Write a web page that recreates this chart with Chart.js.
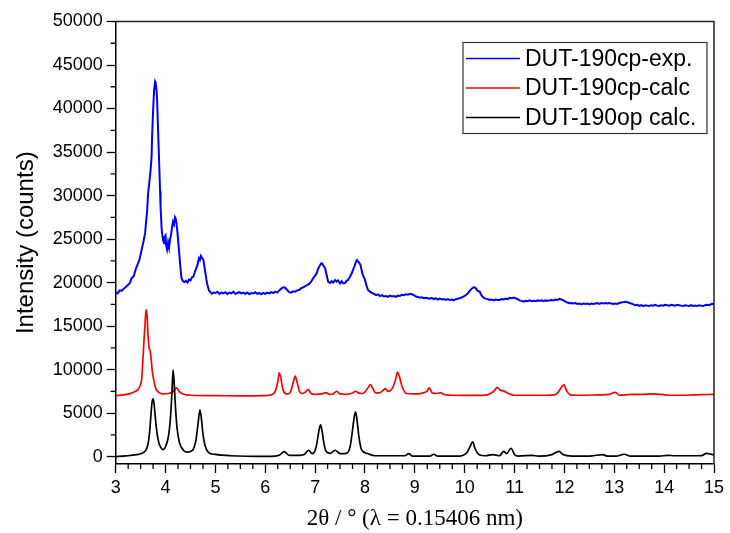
<!DOCTYPE html>
<html>
<head>
<meta charset="utf-8">
<script src="https://cdn.jsdelivr.net/npm/chart.js@4.4.0/dist/chart.umd.min.js"></script>
<style>
	html, body { margin: 0; padding: 0; background: #fff; }
	#xrd { display: block; }
</style>
</head>
<body>
<canvas id="xrd" width="730" height="533"></canvas>
<script>
(function () {
	'use strict';

	// [2theta, counts]
	var expPoints = [
		[3.00,18900],[3.04,18750],[3.08,19100],[3.12,19050],[3.16,19300],[3.20,19450],[3.24,19700],[3.28,19900],
		[3.32,20500],[3.36,20700],[3.40,21500],[3.44,22100],[3.48,22700],[3.52,23750],[3.56,24800],[3.59,25700],
		[3.61,27000],[3.63,28200],[3.65,30260],[3.68,31800],[3.70,32940],[3.72,34500],[3.73,36770],[3.75,39800],
		[3.77,42130],[3.79,43100],[3.80,42970],[3.82,42000],[3.83,40980],[3.85,37500],[3.87,34090],[3.89,30500],
		[3.90,28730],[3.92,26300],[3.93,25670],[3.95,24900],[3.97,24520],[3.98,25200],[4.00,25400],[4.01,24300],
		[4.03,23800],[4.05,24600],[4.07,24000],[4.09,25000],[4.11,25470],[4.13,26400],[4.15,27000],[4.17,26700],
		[4.19,27500],[4.20,27390],[4.22,26800],[4.24,25670],[4.26,24300],[4.28,22980],[4.30,21600],[4.32,20500],
		[4.35,20150],[4.38,20050],[4.41,20200],[4.44,20000],[4.47,20350],[4.50,20250],[4.53,20600],[4.56,20680],
		[4.59,21300],[4.62,21700],[4.64,22030],[4.67,22800],[4.69,22600],[4.71,23060],[4.73,22850],[4.76,22600],
		[4.78,21800],[4.80,21070],[4.82,20300],[4.84,19730],[4.87,19100],[4.90,18900],[4.93,18700],[4.96,18850],
		[5.00,18800],[5.04,18950],[5.08,18700],[5.12,18850],[5.16,18750],[5.20,18900],[5.24,18700],[5.28,18850],
		[5.32,18750],[5.36,18950],[5.40,18700],[5.44,18800],[5.48,18900],[5.52,18750],[5.56,18850],[5.60,18700],
		[5.64,18850],[5.68,18650],[5.72,18800],[5.76,18750],[5.80,18900],[5.84,18700],[5.88,18800],[5.92,18650],
		[5.96,18800],[6.00,18700],[6.04,18850],[6.08,18750],[6.12,18900],[6.16,18800],[6.20,18950],[6.24,18850],
		[6.28,19100],[6.32,19300],[6.36,19450],[6.40,19400],[6.44,19150],[6.48,18900],[6.52,18850],[6.56,19000],
		[6.60,18950],[6.64,19100],[6.68,19150],[6.72,19350],[6.76,19450],[6.80,19600],[6.84,19700],[6.88,19850],
		[6.92,20100],[6.96,20500],[7.00,20800],[7.03,21070],[7.06,21600],[7.09,21900],[7.12,22200],[7.14,22220],
		[7.17,21900],[7.20,21650],[7.23,20900],[7.26,20110],[7.30,19950],[7.33,20150],[7.36,20000],[7.40,20300],
		[7.43,20110],[7.46,20250],[7.50,19900],[7.53,20150],[7.56,19920],[7.60,19950],[7.63,20200],[7.66,20300],
		[7.70,20700],[7.73,21000],[7.76,21450],[7.79,21900],[7.82,22400],[7.84,22600],[7.86,22450],[7.88,22300],
		[7.91,22030],[7.94,21200],[7.97,20700],[8.00,20300],[8.03,19650],[8.06,19150],[8.10,18950],[8.14,18800],
		[8.18,18700],[8.22,18550],[8.26,18650],[8.30,18450],[8.34,18550],[8.38,18400],[8.42,18450],[8.46,18350],
		[8.50,18500],[8.54,18400],[8.58,18450],[8.62,18350],[8.66,18500],[8.70,18450],[8.74,18600],[8.78,18550],
		[8.82,18650],[8.86,18600],[8.90,18700],[8.94,18650],[8.98,18550],[9.02,18400],[9.06,18350],[9.10,18250],
		[9.14,18300],[9.18,18200],[9.22,18250],[9.26,18200],[9.30,18150],[9.34,18250],[9.38,18100],[9.42,18200],
		[9.46,18050],[9.50,18150],[9.54,18050],[9.58,18100],[9.62,18000],[9.66,18100],[9.70,18000],[9.74,18050],
		[9.78,17950],[9.82,18100],[9.86,18150],[9.90,18200],[9.94,18300],[9.98,18400],[10.02,18550],[10.06,18750],
		[10.10,19050],[10.14,19300],[10.18,19450],[10.20,19460],[10.23,19300],[10.26,19050],[10.30,18960],[10.34,18500],
		[10.38,18250],[10.42,18150],[10.46,18100],[10.50,18000],[10.54,18050],[10.58,17950],[10.62,18050],[10.66,18000],
		[10.70,18000],[10.74,18100],[10.78,18050],[10.82,18150],[10.86,18100],[10.90,18250],[10.94,18200],[10.98,18270],
		[11.02,18200],[11.06,18100],[11.10,17950],[11.14,17900],[11.18,17810],[11.22,17900],[11.26,17850],[11.30,17950],
		[11.34,17850],[11.38,17900],[11.42,17850],[11.46,17950],[11.50,17900],[11.54,17950],[11.58,17850],[11.62,17950],
		[11.66,17900],[11.70,17950],[11.74,18000],[11.78,17950],[11.82,18050],[11.86,18000],[11.90,18120],[11.94,18050],
		[11.98,17950],[12.02,17800],[12.06,17700],[12.10,17630],[12.14,17650],[12.18,17600],[12.22,17650],[12.26,17550],
		[12.30,17600],[12.34,17500],[12.38,17600],[12.42,17550],[12.46,17600],[12.50,17500],[12.54,17600],[12.58,17550],
		[12.62,17600],[12.66,17650],[12.70,17550],[12.74,17650],[12.78,17600],[12.82,17650],[12.86,17600],[12.90,17650],
		[12.94,17600],[12.98,17550],[13.02,17600],[13.06,17550],[13.10,17650],[13.14,17700],[13.18,17750],[13.22,17800],
		[13.26,17750],[13.30,17650],[13.34,17600],[13.38,17500],[13.42,17400],[13.46,17450],[13.50,17320],[13.54,17400],
		[13.58,17300],[13.62,17400],[13.66,17350],[13.70,17300],[13.74,17400],[13.78,17350],[13.82,17450],[13.86,17350],
		[13.90,17320],[13.94,17400],[13.98,17350],[14.02,17450],[14.06,17400],[14.10,17350],[14.14,17450],[14.18,17400],
		[14.22,17350],[14.26,17450],[14.30,17400],[14.34,17350],[14.38,17300],[14.42,17400],[14.46,17350],[14.50,17300],
		[14.54,17400],[14.58,17320],[14.62,17350],[14.66,17300],[14.70,17400],[14.74,17350],[14.78,17300],[14.82,17400],
		[14.86,17450],[14.90,17400],[14.94,17500],[14.98,17550],[15.00,17500]
	];

	var cpCalcPoints = [
		[3.00,7000],[3.15,7100],[3.29,7240],[3.38,7450],[3.45,7700],[3.50,8300],[3.52,8850],[3.55,11520],
		[3.57,13600],[3.59,15360],[3.61,16890],[3.63,16120],[3.65,13800],[3.67,12500],[3.69,12200],[3.71,11300],
		[3.73,10000],[3.76,8900],[3.80,7900],[3.86,7400],[3.95,7200],[4.05,7250],[4.15,7450],[4.22,7900],
		[4.28,7450],[4.35,7200],[4.50,7050],[5.00,7000],[5.50,6980],[6.00,7000],[6.12,7100],[6.20,7500],
		[6.25,8600],[6.28,9620],[6.31,9100],[6.35,7800],[6.40,7250],[6.46,7200],[6.51,7500],[6.56,8500],
		[6.60,9250],[6.64,8500],[6.68,7600],[6.73,7250],[6.80,7400],[6.86,7700],[6.92,7250],[7.00,7150],
		[7.12,7200],[7.22,7350],[7.28,7150],[7.36,7200],[7.43,7510],[7.50,7200],[7.62,7150],[7.75,7300],
		[7.81,7510],[7.88,7300],[7.95,7250],[8.01,7500],[8.07,8000],[8.11,8270],[8.16,7800],[8.21,7320],
		[8.29,7320],[8.36,7600],[8.41,7810],[8.46,7500],[8.52,7650],[8.57,8080],[8.62,9000],[8.65,9690],
		[8.69,9200],[8.73,8300],[8.77,7700],[8.83,7250],[9.00,7200],[9.15,7300],[9.24,7500],[9.29,7890],
		[9.35,7300],[9.45,7250],[9.52,7350],[9.58,7150],[9.75,7050],[10.20,7030],[10.45,7100],[10.53,7300],
		[10.60,7600],[10.65,7960],[10.71,7650],[10.78,7550],[10.86,7300],[11.00,7050],[11.50,7050],[11.80,7100],
		[11.87,7350],[11.92,7800],[11.99,8240],[12.05,7500],[12.12,7100],[12.25,7050],[12.70,7100],[12.90,7150],
		[13.02,7390],[13.10,7050],[13.35,7150],[13.55,7150],[13.75,7200],[13.95,7150],[14.10,7050],[14.30,7050],
		[14.60,7100],[15.00,7150]
	];

	var opCalcPoints = [
		[3.00,0],[3.20,80],[3.42,230],[3.59,610],[3.65,1500],[3.68,2800],[3.71,5020],[3.73,6300],
		[3.75,6650],[3.77,6100],[3.79,4800],[3.82,3100],[3.86,1700],[3.90,1100],[3.95,800],[4.01,1300],
		[4.06,2400],[4.10,4600],[4.13,7600],[4.15,9970],[4.17,8700],[4.20,5600],[4.23,3300],[4.28,1600],
		[4.35,800],[4.42,520],[4.50,600],[4.56,900],[4.61,1900],[4.65,3700],[4.69,5380],[4.72,4300],
		[4.75,2600],[4.79,1300],[4.86,500],[5.00,250],[5.30,100],[6.10,20],[6.28,150],[6.38,570],
		[6.48,150],[6.70,150],[6.78,230],[6.87,730],[6.94,350],[7.00,700],[7.04,1700],[7.08,3100],
		[7.11,3650],[7.14,2900],[7.18,1400],[7.22,610],[7.30,380],[7.40,730],[7.50,350],[7.63,380],
		[7.70,1100],[7.74,2600],[7.78,4400],[7.81,5140],[7.84,4200],[7.88,2200],[7.93,800],[8.05,350],
		[8.20,100],[8.80,100],[8.88,340],[8.95,60],[9.30,50],[9.38,270],[9.45,50],[9.90,60],
		[10.05,500],[10.11,1190],[10.16,1690],[10.21,900],[10.28,250],[10.42,100],[10.56,230],[10.70,100],
		[10.78,610],[10.84,340],[10.93,960],[11.00,230],[11.08,60],[11.35,150],[11.48,50],[11.75,230],
		[11.89,610],[11.97,230],[12.15,50],[12.48,50],[12.58,100],[12.76,230],[12.87,50],[13.03,50],
		[13.20,270],[13.33,50],[13.90,50],[14.07,150],[14.22,100],[14.55,100],[14.75,120],[14.85,380],
		[14.92,300],[15.00,200]
	];

	var seriesNames = ['DUT-190cp-exp.', 'DUT-190cp-calc', 'DUT-190op calc.'];
	var seriesColors = ['#0000ff', '#ff0000', '#000000'];
	var xTickValues = [3, 4, 5, 6, 7, 8, 9, 10, 11, 12, 13, 14, 15];
	var yTickValues = [0, 5000, 10000, 15000, 20000, 25000, 30000, 35000, 40000, 45000, 50000];

	function toXY(pts) {
		return pts.map(function (p) { return { x: p[0], y: p[1] }; });
	}

	var sansFont = "'Liberation Sans', Arial, sans-serif";
	var serifFont = "'Liberation Serif', 'Times New Roman', serif";

	// minor ticks, top/right frame and the boxed legend
	var frameAndLegend = {
		id: 'frameAndLegend',
		afterDraw: function (chart) {
			var ctx = chart.ctx;
			var a = chart.chartArea;
			var xs = chart.scales.x;
			var ys = chart.scales.y;
			var i, p;
			ctx.save();
			ctx.strokeStyle = '#000';
			ctx.lineWidth = 1.3;
			ctx.beginPath();
			for (i = 0; i < xTickValues.length - 1; i++) {
				for (var k = 1; k < 4; k++) {
					p = xs.getPixelForValue(xTickValues[i] + k * 0.25);
					ctx.moveTo(p, a.bottom);
					ctx.lineTo(p, a.bottom + 5);
				}
			}
			for (i = 0; i < yTickValues.length - 1; i++) {
				p = ys.getPixelForValue(yTickValues[i] + 2500);
				ctx.moveTo(a.left, p);
				ctx.lineTo(a.left - 5, p);
			}
			ctx.stroke();

			ctx.strokeStyle = '#222';
			ctx.lineWidth = 1.5;
			ctx.beginPath();
			ctx.moveTo(a.left, a.top);
			ctx.lineTo(a.right, a.top);
			ctx.lineTo(a.right, a.bottom);
			ctx.stroke();

			var bx = a.right - 251, by = a.top + 21, bw = 244, bh = 91;
			ctx.fillStyle = '#fff';
			ctx.fillRect(bx, by, bw, bh);
			ctx.strokeStyle = '#333';
			ctx.lineWidth = 1.2;
			ctx.strokeRect(bx, by, bw, bh);
			ctx.font = '23px ' + sansFont;
			ctx.textBaseline = 'middle';
			ctx.textAlign = 'left';
			for (i = 0; i < seriesNames.length; i++) {
				var ry = by + 16 + i * 29.5;
				ctx.strokeStyle = seriesColors[i];
				ctx.lineWidth = 1.6;
				ctx.beginPath();
				ctx.moveTo(bx + 3, ry);
				ctx.lineTo(bx + 57, ry);
				ctx.stroke();
				ctx.fillStyle = '#000';
				ctx.fillText(seriesNames[i], bx + 62, ry + 1);
			}
			ctx.restore();
		}
	};

	var points = [expPoints, cpCalcPoints, opCalcPoints];
	var datasets = points.map(function (pts, i) {
		return {
			label: seriesNames[i],
			data: toXY(pts),
			borderColor: seriesColors[i],
			borderWidth: i === 0 ? 2 : 1.7,
			pointRadius: 0,
			fill: false,
			order: 3 - i,
			cubicInterpolationMode: i === 0 ? 'default' : 'monotone',
			tension: 0
		};
	});

	new Chart(document.getElementById('xrd'), {
		type: 'line',
		data: { datasets: datasets },
		options: {
			responsive: false,
			animation: false,
			devicePixelRatio: 1,
			layout: { padding: { top: 21.5, right: 16, bottom: 0, left: 0 } },
			plugins: { legend: { display: false }, tooltip: { enabled: false } },
			scales: {
				x: {
					type: 'linear',
					min: 3,
					max: 15,
					afterFit: function (s) { s.height = 69; },
					afterBuildTicks: function (s) {
						s.ticks = xTickValues.map(function (v) { return { value: v }; });
					},
					ticks: {
						autoSkip: false,
						maxRotation: 0,
						padding: 4,
						color: '#000',
						font: { family: sansFont, size: 18 },
						callback: function (v) { return String(v); }
					},
					grid: { drawOnChartArea: false, tickLength: 9, tickColor: '#000', tickWidth: 1.3 },
					border: { color: '#000', width: 1.5 },
					title: {
						display: true,
						text: '2θ / ° (λ = 0.15406 nm)',
						color: '#000',
						font: { family: serifFont, size: 23 },
						padding: { top: 0, bottom: 0 }
					}
				},
				y: {
					type: 'linear',
					min: -850,
					max: 50000,
					afterFit: function (s) { s.width = 115.7; },
					afterBuildTicks: function (s) {
						s.ticks = yTickValues.map(function (v) { return { value: v }; });
					},
					ticks: {
						padding: 4,
						color: '#000',
						font: { family: sansFont, size: 18 },
						callback: function (v) { return String(v); }
					},
					grid: { drawOnChartArea: false, tickLength: 9, tickColor: '#000', tickWidth: 1.3 },
					border: { color: '#000', width: 1.5 },
					title: {
						display: true,
						text: 'Intensity (counts)',
						color: '#000',
						font: { family: sansFont, size: 24 },
						padding: { top: 12, bottom: 0 }
					}
				}
			}
		},
		plugins: [frameAndLegend]
	});
})();
</script>
</body>
</html>
